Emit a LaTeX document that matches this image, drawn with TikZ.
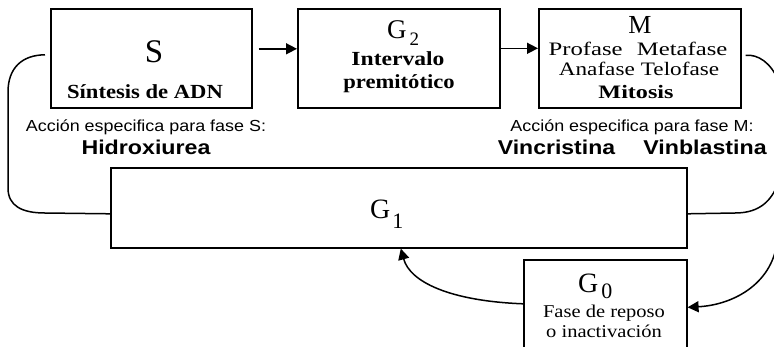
\documentclass[tikz,border=0pt]{standalone}
\usepackage{fontspec}
\setmainfont{Liberation Serif}
\newfontfamily\arialf{Liberation Sans}
\usetikzlibrary{arrows.meta}
\newcommand\mytx[3]{{\fontsize{#1}{#1}\selectfont\scalebox{#2}[1]{#3}}}
\begin{document}
\begin{tikzpicture}[x=1pt,y=-1pt,
  box/.style={draw, line width=1.6pt, inner sep=0pt, anchor=north west},
  lbl/.style={inner sep=0pt, anchor=base},
  conn/.style={line width=1.5pt},
  arr/.style={conn, -{Triangle[length=11pt,width=11pt]}}]
\useasboundingbox[fill=white] (0,0) rectangle (774,346);
% boxes
\node[box, minimum width=201pt, minimum height=99pt] (S) at (50,8) {};
\node[box, minimum width=202pt, minimum height=99pt] (G2) at (297,8) {};
\node[box, minimum width=202pt, minimum height=99pt] (M) at (538,8) {};
\node[box, minimum width=576pt, minimum height=80pt] (G1) at (110,167) {};
\node[box, minimum width=163pt, minimum height=95pt] (G0) at (523,259) {};
% S box texts
\node[lbl] (tS) at (154,62) {\mytx{33}{1}{S}};
\node[lbl] (tSin) at (145,98) {\mytx{20}{1.13}{\bfseries Síntesis de ADN}};
\node[lbl] (tAccS) at (146,131) {\mytx{16}{1.12}{\arialf Acción especifica para fase S:}};
\node[lbl] (tHid) at (146,154) {\mytx{20}{1.16}{\arialf\bfseries Hidroxiurea}};
% G2 box texts
\node[lbl, anchor=base west] (tG2) at (387,38) {\mytx{27}{1}{G\kern3pt\raisebox{-7pt}{\fontsize{19}{19}\selectfont 2}}};
\node[lbl] (tInt) at (398,65) {\mytx{20}{1.18}{\bfseries Intervalo}};
\node[lbl] (tPre) at (399,88) {\mytx{20}{1.13}{\bfseries premitótico}};
% M box texts
\node[lbl] (tM) at (640,33) {\mytx{26}{1}{M}};
\node[lbl] (tPro) at (638,55) {\mytx{19}{1.3}{Profase\hspace{11pt}Metafase}};
\node[lbl] (tAna) at (639,75) {\mytx{19}{1.22}{Anafase\hspace{5pt}Telofase}};
\node[lbl] (tMit) at (636,98) {\mytx{19}{1.27}{\bfseries Mitosis}};
\node[lbl] (tAccM) at (632,131) {\mytx{16}{1.12}{\arialf Acción especifica para fase M:}};
\node[lbl] (tVinc) at (556.5,154) {\mytx{20}{1.15}{\arialf\bfseries Vincristina}};
\node[lbl] (tVinb) at (705,154) {\mytx{20}{1.16}{\arialf\bfseries Vinblastina}};
% G1 and G0 texts
\node[lbl, anchor=base west] (tG1) at (370,218) {\mytx{28}{1}{G\kern2pt\raisebox{-10pt}{\fontsize{22}{22}\selectfont 1}}};
\node[lbl, anchor=base west] (tG0) at (578,292) {\mytx{28}{1}{G\kern3pt\raisebox{-6pt}{\fontsize{22}{22}\selectfont 0}}};
\node[lbl] (tFase) at (604,317) {\mytx{18}{1.14}{Fase de reposo}};
\node[lbl] (tOin) at (604,337) {\mytx{18}{1.14}{o inactivación}};
% connectors
\draw[arr] ([xshift=6pt,yshift=9.5pt]S.east) -- ([yshift=9.5pt]G2.west);
\draw[arr] ([yshift=10pt]G2.east) -- ([yshift=10pt]M.west);
\draw[conn] ([xshift=-5pt,yshift=3.5pt]S.west) .. controls (22,55) and (8,68) .. (8,92)
  -- (8,188) .. controls (8,206) and (22,213) .. (45,213) -- ([yshift=-6pt]G1.west);
\coordinate (rA) at (778,80);
\coordinate (rB) at (777,186);
\coordinate (rC) at (777,243);
\draw[conn] ([xshift=4pt,yshift=3pt]M.east) .. controls (758,54) and (771,63) .. (rA);
\draw[conn] ([yshift=-6pt]G1.east) -- (735,213) .. controls (755,213) and (769,205) .. (rB);
\draw[arr] (rC) .. controls (771,285) and (732,305) .. (G0.east);
\draw[arr] ([yshift=3.5pt]G0.west) .. controls (450,301) and (410,282) .. ([xshift=2pt]G1.south);
\end{tikzpicture}
\end{document}
